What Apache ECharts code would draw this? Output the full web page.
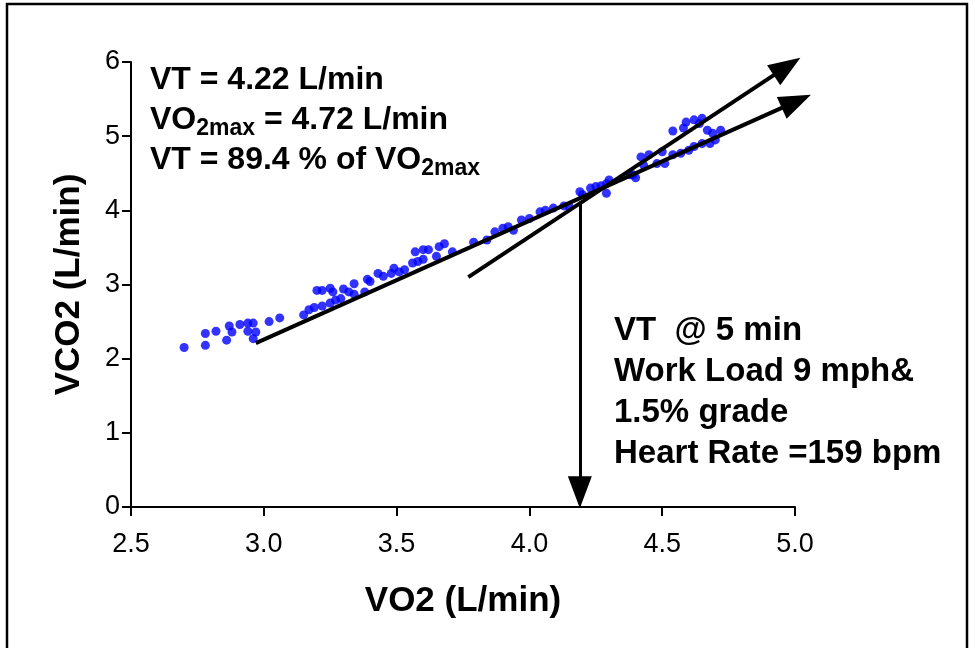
<!DOCTYPE html>
<html>
<head>
<meta charset="utf-8">
<script src="https://cdn.jsdelivr.net/npm/echarts@6/dist/echarts.min.js"></script>
<style>
  html, body { margin: 0; padding: 0; background: #fff; }
  #chart { width: 975px; height: 648px; }
</style>
</head>
<body>
<div id="chart"></div>
<script>
// VO2 / VCO2 breath samples (L/min)
var vo2 = [2.70, 2.78, 2.78, 2.82, 2.86, 2.87, 2.88, 2.91, 2.94, 2.94,
  2.96, 2.97, 2.96, 3.02, 3.06, 3.15, 3.17, 3.19, 3.22, 3.25,
  3.27, 3.29, 3.20, 3.22, 3.25, 3.26, 3.30, 3.32, 3.34, 3.34,
  3.38, 3.39, 3.40, 3.43, 3.45, 3.48, 3.49, 3.51, 3.53, 3.56,
  3.58, 3.60, 3.57, 3.60, 3.62, 3.65, 3.66, 3.68, 3.71, 3.79,
  3.84, 3.87, 3.90, 3.92, 3.94, 3.97, 4.00, 4.04, 4.06, 4.09,
  4.13, 4.15, 4.19, 4.20, 4.23, 4.25, 4.27, 4.29, 4.30, 4.29,
  4.39, 4.43, 4.40, 4.38, 4.42, 4.45, 4.50, 4.48, 4.51, 4.54,
  4.57, 4.60, 4.62, 4.65, 4.68, 4.70, 4.72, 4.69, 4.67, 4.54,
  4.58, 4.59, 4.62, 4.65, 4.64]
var vco2 = [2.15, 2.34, 2.18, 2.37, 2.25, 2.44, 2.36, 2.46, 2.37, 2.48,
  2.48, 2.36, 2.27, 2.50, 2.55, 2.59, 2.66, 2.69, 2.71, 2.75,
  2.79, 2.81, 2.92, 2.92, 2.95, 2.90, 2.94, 2.90, 2.87, 3.01,
  2.90, 3.07, 3.04, 3.15, 3.11, 3.15, 3.22, 3.17, 3.20, 3.29,
  3.31, 3.34, 3.44, 3.47, 3.47, 3.38, 3.51, 3.55, 3.44, 3.57,
  3.60, 3.71, 3.76, 3.78, 3.73, 3.87, 3.89, 3.98, 4.00, 4.03,
  4.06, 4.05, 4.25, 4.21, 4.30, 4.32, 4.33, 4.36, 4.41, 4.23,
  4.48, 4.61, 4.44, 4.48, 4.72, 4.75, 4.79, 4.63, 4.63, 4.75,
  4.77, 4.81, 4.86, 4.90, 4.90, 4.95, 5.08, 5.04, 5.08, 5.07,
  5.11, 5.19, 5.22, 5.24, 5.17]

// regression lines + VT marker, [start, end] in data units
var lowFit = [[2.97, 2.21], [5.005, 5.47]]
var highFit = [[3.77, 3.10], [4.97, 5.94]]
var vtDrop = [[4.19, 4.12], [4.19, 0.20]]

var xTicks = [2.5, 5.0, 0.5]   // min, max, step
var yTicks = [0, 6, 1]

var FONT = "'Liberation Sans', Arial, sans-serif"

var points = []
for (var i = 0; i < vo2.length; i++) {
  points.push([vo2[i], vco2[i]])
}

var chart = echarts.init(document.getElementById('chart'))

var option = {
  animation: false,
  backgroundColor: '#fff',
  grid: { left: 131, right: 180, top: 62, bottom: 141 },
  xAxis: {
    type: 'value',
    min: xTicks[0], max: xTicks[1], interval: xTicks[2],
    name: 'VO2 (L/min)',
    nameLocation: 'middle',
    nameGap: 77,
    nameTextStyle: { fontFamily: FONT, fontSize: 35, fontWeight: 'bold', color: '#000' },
    axisLine: { lineStyle: { color: '#000', width: 2 } },
    axisTick: { length: 9, lineStyle: { color: '#000', width: 2 } },
    axisLabel: {
      margin: 24, fontFamily: FONT, fontSize: 27, color: '#000',
      formatter: function (v) { return v.toFixed(1) }
    },
    splitLine: { show: false }
  },
  yAxis: {
    type: 'value',
    min: yTicks[0], max: yTicks[1], interval: yTicks[2],
    name: 'VCO2 (L/min)',
    nameLocation: 'middle',
    nameGap: 44,
    nameTextStyle: { fontFamily: FONT, fontSize: 35, fontWeight: 'bold', color: '#000' },
    axisLine: { onZero: false, lineStyle: { color: '#000', width: 2 } },
    axisTick: { length: 9, lineStyle: { color: '#000', width: 2 } },
    axisLabel: { margin: 11, fontFamily: FONT, fontSize: 27, color: '#000' },
    splitLine: { show: false }
  },
  graphic: [
    {
      type: 'polyline',
      shape: { points: [[7, 660], [7, 4], [967, 4], [967, 660]] },
      style: { stroke: '#000', lineWidth: 2.5, fill: null }
    },
    {
      type: 'text', x: 150, y: 60,
      style: {
        text: '{n|VT = 4.22 L/min}\n{n|VO}{s|2max}{n| = 4.72 L/min}\n{n|VT = 89.4 % of VO}{s|2max}',
        verticalAlign: 'top',
        rich: {
          n: { fontFamily: FONT, fontSize: 32, fontWeight: 'bold', lineHeight: 40, fill: '#000' },
          s: { fontFamily: FONT, fontSize: 23, fontWeight: 'bold', lineHeight: 18, verticalAlign: 'bottom', fill: '#000' }
        }
      }
    },
    {
      type: 'text', x: 614, y: 310,
      style: {
        text: 'VT  @ 5 min\nWork Load 9 mph&\n1.5% grade\nHeart Rate =159 bpm',
        verticalAlign: 'top',
        fontFamily: FONT, fontSize: 33, fontWeight: 'bold', lineHeight: 41, fill: '#000'
      }
    }
  ],
  series: [
    {
      type: 'scatter',
      data: points,
      symbol: 'circle',
      symbolSize: 9,
      itemStyle: { color: '#0000ff' },
      silent: true,
      z: 2
    },
    {
      type: 'lines',
      coordinateSystem: 'cartesian2d',
      clip: false,
      silent: true,
      z: 3,
      symbol: ['none', 'triangle'],
      symbolSize: [1, [24, 32]],
      lineStyle: { color: '#000', width: 4, opacity: 1 },
      data: [{ coords: lowFit }, { coords: highFit }, { coords: vtDrop, lineStyle: { width: 3 } }]
    }
  ]
}

chart.setOption(option)
</script>
</body>
</html>
